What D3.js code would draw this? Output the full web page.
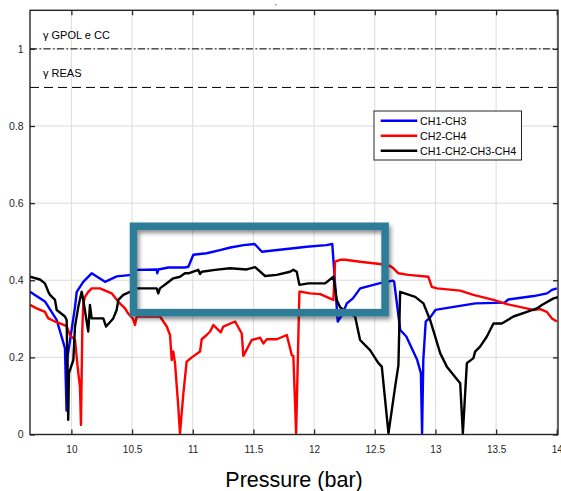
<!DOCTYPE html>
<html>
<head>
<meta charset="utf-8">
<script src="https://cdn.jsdelivr.net/npm/d3@7/dist/d3.min.js"></script>
<style>
  html, body { margin: 0; padding: 0; background: #fff; }
  svg { display: block; font-family: "Liberation Sans", Arial, Helvetica, sans-serif; }
</style>
</head>
<body>
<svg id="chart" width="561" height="491"></svg>
<script>
// Pressure sweep (bar) and coherence values for each channel pair
const ch13P = [9.659, 9.782, 9.879, 9.947, 9.960, 9.968, 10.030, 10.044, 10.098, 10.167, 10.277, 10.374, 10.497, 10.538, 10.703, 10.708, 10.716, 10.80, 10.936, 10.964, 11.005, 11.115, 11.225, 11.31, 11.42, 11.51, 11.57, 11.66, 11.83, 11.94, 12.10, 12.15, 12.195, 12.23, 12.27, 12.32, 12.38, 12.56, 12.65, 12.66, 12.71, 12.76, 12.85, 12.88, 12.89, 12.90, 12.92, 12.96, 13.0, 13.15, 13.33, 13.57, 13.60, 13.81, 13.92, 13.96, 14.0];
const ch13V = [0.370, 0.345, 0.297, 0.224, 0.062, 0.200, 0.331, 0.370, 0.396, 0.418, 0.396, 0.410, 0.414, 0.427, 0.428, 0.418, 0.428, 0.433, 0.433, 0.435, 0.466, 0.470, 0.478, 0.485, 0.491, 0.494, 0.474, 0.477, 0.483, 0.487, 0.491, 0.494, 0.293, 0.310, 0.340, 0.353, 0.379, 0.394, 0.399, 0.396, 0.271, 0.254, 0.193, 0.159, 0.003, 0.193, 0.293, 0.305, 0.323, 0.331, 0.340, 0.342, 0.350, 0.359, 0.366, 0.375, 0.379];

const ch24P = [9.659, 9.714, 9.782, 9.810, 9.865, 9.906, 9.961, 9.988, 10.030, 10.057, 10.071, 10.079, 10.090, 10.098, 10.112, 10.139, 10.167, 10.236, 10.332, 10.387, 10.442, 10.467, 10.508, 10.524, 10.538, 10.730, 10.786, 10.813, 10.827, 10.840, 10.854, 10.881, 10.895, 10.923, 10.950, 10.992, 11.060, 11.074, 11.115, 11.143, 11.170, 11.198, 11.231, 11.252, 11.349, 11.404, 11.417, 11.486, 11.555, 11.582, 11.610, 11.693, 11.775, 11.816, 11.829, 11.852, 11.879, 11.899, 11.967, 12.050, 12.159, 12.173, 12.214, 12.256, 12.379, 12.544, 12.627, 12.654, 12.695, 12.777, 12.942, 12.970, 13.012, 13.204, 13.313, 13.478, 13.589, 13.808, 13.863, 13.918, 13.960, 14.001];
const ch24V = [0.336, 0.327, 0.318, 0.301, 0.293, 0.288, 0.281, 0.258, 0.245, 0.159, 0.124, 0.025, 0.271, 0.340, 0.357, 0.370, 0.379, 0.379, 0.366, 0.344, 0.327, 0.314, 0.300, 0.284, 0.306, 0.306, 0.280, 0.258, 0.193, 0.215, 0.185, 0.072, 0.003, 0.107, 0.189, 0.200, 0.215, 0.247, 0.258, 0.267, 0.284, 0.275, 0.265, 0.280, 0.293, 0.262, 0.204, 0.245, 0.251, 0.236, 0.247, 0.247, 0.258, 0.206, 0.204, 0.003, 0.370, 0.370, 0.366, 0.364, 0.349, 0.448, 0.453, 0.453, 0.448, 0.442, 0.437, 0.431, 0.418, 0.414, 0.409, 0.383, 0.379, 0.373, 0.362, 0.349, 0.338, 0.323, 0.325, 0.318, 0.301, 0.293];

const ch1234P = [9.659, 9.741, 9.782, 9.810, 9.824, 9.865, 9.879, 9.947, 9.961, 9.974, 9.980, 10.016, 10.030, 10.057, 10.085, 10.098, 10.139, 10.153, 10.167, 10.263, 10.286, 10.345, 10.373, 10.387, 10.428, 10.483, 10.538, 10.703, 10.716, 10.730, 10.786, 10.840, 10.895, 10.936, 10.964, 11.046, 11.060, 11.074, 11.184, 11.307, 11.445, 11.514, 11.596, 11.692, 11.802, 11.829, 11.857, 11.879, 11.953, 12.091, 12.159, 12.187, 12.214, 12.270, 12.338, 12.379, 12.461, 12.530, 12.558, 12.613, 12.668, 12.695, 12.709, 12.833, 12.901, 12.956, 12.998, 13.039, 13.094, 13.204, 13.226, 13.259, 13.313, 13.327, 13.368, 13.424, 13.478, 13.547, 13.643, 13.754, 13.836, 13.877, 13.973, 14.01];
const ch1234V = [0.409, 0.402, 0.392, 0.370, 0.362, 0.349, 0.323, 0.306, 0.297, 0.038, 0.159, 0.193, 0.280, 0.331, 0.370, 0.349, 0.267, 0.336, 0.301, 0.301, 0.280, 0.301, 0.323, 0.349, 0.362, 0.370, 0.379, 0.379, 0.366, 0.379, 0.392, 0.405, 0.409, 0.418, 0.418, 0.427, 0.416, 0.422, 0.427, 0.431, 0.428, 0.434, 0.411, 0.414, 0.422, 0.427, 0.422, 0.388, 0.392, 0.392, 0.409, 0.349, 0.330, 0.318, 0.306, 0.245, 0.219, 0.185, 0.176, 0.003, 0.124, 0.180, 0.370, 0.357, 0.340, 0.297, 0.254, 0.211, 0.176, 0.133, 0.003, 0.185, 0.198, 0.215, 0.228, 0.254, 0.288, 0.288, 0.306, 0.318, 0.327, 0.336, 0.353, 0.356];

const seriesNames = ["CH1-CH3", "CH2-CH4", "CH1-CH2-CH3-CH4"];
const seriesColors = ["#0000ff", "#ff0000", "#000000"];

const xTicks = [10, 10.5, 11, 11.5, 12, 12.5, 13, 13.5, 14];
const xTickLabels = ["10", "10.5", "11", "11.5", "12", "12.5", "13", "13.5", "14"];
const yTicks = [0, 0.2, 0.4, 0.6, 0.8, 1];
const yTickLabels = ["0", "0.2", "0.4", "0.6", "0.8", "1"];

// Threshold levels
const thresholdNames = ["GPOL e CC", "REAS"];
const thresholdValues = [1.0, 0.9];

// Highlighted pressure/coherence window
const highlightP = [10.512, 12.585];
const highlightV = [0.316, 0.540];

const xLabel = "Pressure (bar)";

// ---- layout ----
const svg = d3.select("#chart");
const plotLeft = 30, plotRight = 558, plotTop = 10.3, plotBottom = 434.5;
const axisColor = "#262626";

const x = d3.scaleLinear().domain([9.659, 14.01]).range([plotLeft, plotRight]);
const y = d3.scaleLinear().domain([0, 1.1]).range([plotBottom, plotTop]);

const defs = svg.append("defs");
defs.append("clipPath").attr("id", "plotClip")
  .append("rect").attr("x", plotLeft).attr("y", plotTop)
  .attr("width", plotRight - plotLeft).attr("height", plotBottom - plotTop);
const shadow = defs.append("filter").attr("id", "boxShadow")
  .attr("x", "-10%").attr("y", "-10%").attr("width", "130%").attr("height", "140%");
shadow.append("feDropShadow").attr("dx", 2).attr("dy", 3)
  .attr("stdDeviation", 2).attr("flood-color", "#000").attr("flood-opacity", 0.45);

// grid
const grid = svg.append("g");
grid.selectAll("line.gx").data(xTicks).join("line")
  .attr("x1", d => x(d)).attr("x2", d => x(d))
  .attr("y1", plotTop).attr("y2", plotBottom)
  .attr("stroke", "#dcdcdc").attr("stroke-width", 1);
grid.selectAll("line.gy").data(yTicks).join("line")
  .attr("x1", plotLeft).attr("x2", plotRight)
  .attr("y1", d => y(d)).attr("y2", d => y(d))
  .attr("stroke", "#dcdcdc").attr("stroke-width", 1);

// threshold lines
const thrDash = ["7,2.5,1.5,2.5", "9,5"];
svg.append("g").selectAll("line").data(thresholdValues).join("line")
  .attr("x1", plotLeft).attr("x2", plotRight)
  .attr("y1", d => y(d)).attr("y2", d => y(d))
  .attr("stroke", "#000").attr("stroke-width", 1)
  .attr("stroke-dasharray", (d, i) => thrDash[i]);
svg.append("g").selectAll("text").data(thresholdNames).join("text")
  .attr("x", 43).attr("y", (d, i) => y(thresholdValues[i]) - 10)
  .attr("font-size", "11px").attr("fill", "#000")
  .text(d => "\u03B3 " + d);

// series
const series = [
  ch13P.map((p, i) => [p, ch13V[i]]),
  ch24P.map((p, i) => [p, ch24V[i]]),
  ch1234P.map((p, i) => [p, ch1234V[i]])
];
const line = d3.line().x(d => x(d[0])).y(d => y(d[1]));
svg.append("g").attr("clip-path", "url(#plotClip)")
  .selectAll("path").data(series).join("path")
  .attr("d", line)
  .attr("fill", "none")
  .attr("stroke", (d, i) => seriesColors[i])
  .attr("stroke-width", 2.4)
  .attr("stroke-linejoin", "round");

// axes with inward ticks on all four sides
const fmtX = d => xTickLabels[xTicks.indexOf(d)];
const fmtY = d => yTickLabels[yTicks.indexOf(d)];
const gx = svg.append("g").attr("transform", `translate(0,${plotBottom})`)
  .call(d3.axisBottom(x).tickValues(xTicks).tickFormat(fmtX).tickSize(-5).tickPadding(11.5));
const gy = svg.append("g").attr("transform", `translate(${plotLeft},0)`)
  .call(d3.axisLeft(y).tickValues(yTicks).tickFormat(fmtY).tickSize(-5).tickPadding(6.5));
const gt = svg.append("g").attr("transform", `translate(0,${plotTop})`)
  .call(d3.axisTop(x).tickValues(xTicks).tickFormat("").tickSize(-5));
const gr = svg.append("g").attr("transform", `translate(${plotRight},0)`)
  .call(d3.axisRight(y).tickValues(yTicks).tickFormat("").tickSize(-5));
[gx, gy, gt, gr].forEach(g => {
  g.select(".domain").remove();
  g.selectAll(".tick line").attr("stroke", axisColor).attr("stroke-width", 1.3);
  g.selectAll(".tick text").attr("fill", axisColor)
    .attr("font-family", "'Liberation Sans', Arial, sans-serif");
});
gx.selectAll(".tick text").attr("font-size", "10px");
gy.selectAll(".tick text").attr("font-size", "10.5px");

svg.append("rect")
  .attr("x", plotLeft).attr("y", plotTop)
  .attr("width", plotRight - plotLeft).attr("height", plotBottom - plotTop)
  .attr("fill", "none").attr("stroke", axisColor).attr("stroke-width", 1.4);

// highlight box
svg.append("rect")
  .attr("x", x(highlightP[0])).attr("y", y(highlightV[1]))
  .attr("width", x(highlightP[1]) - x(highlightP[0]))
  .attr("height", y(highlightV[0]) - y(highlightV[1]))
  .attr("fill", "none").attr("stroke", "#2e7d98").attr("stroke-width", 7.5)
  .attr("filter", "url(#boxShadow)");

// legend
const lg = svg.append("g").attr("transform", "translate(374,111)");
lg.append("rect").attr("width", 147.5).attr("height", 49)
  .attr("fill", "#fff").attr("stroke", axisColor).attr("stroke-width", 1);
const items = lg.selectAll("g").data(seriesNames).join("g")
  .attr("transform", (d, i) => `translate(0,${9.7 + i * 15})`);
items.append("line").attr("x1", 6.7).attr("x2", 43.3)
  .attr("stroke", (d, i) => seriesColors[i]).attr("stroke-width", 2.4);
items.append("text").attr("x", 46).attr("y", 3.8)
  .attr("font-size", "10.7px").attr("fill", "#000").text(d => d);

// axis title
svg.append("text").attr("x", 294).attr("y", 487)
  .attr("text-anchor", "middle").attr("font-size", "21.5px").attr("fill", "#000")
  .text(xLabel);

// small mark above the frame
svg.append("text").attr("x", 275).attr("y", 9).attr("font-size", "8px")
  .attr("fill", "#000").text("'");
</script>
</body>
</html>
